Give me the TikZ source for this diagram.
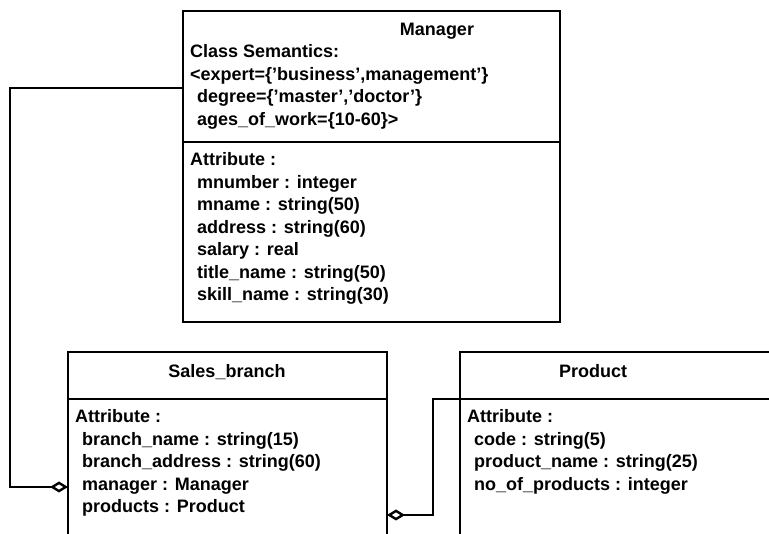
\documentclass[tikz,border=0pt]{standalone}
\usepackage{fontspec}
\setmainfont{Liberation Sans}
\usetikzlibrary{arrows.meta}
\begin{document}
\begin{tikzpicture}[x=1pt,y=-1pt,
  umlbox/.style={draw, line width=2.6pt, rectangle, inner sep=0pt, outer sep=0pt, anchor=north west},
  sepline/.style={line width=2.6pt},
  link/.style={line width=2.4pt},
  agg/.style={{Diamond[open,length=18pt,width=11pt,line width=2.4pt]}-},
  txt/.style={anchor=base west, inner sep=0pt, font=\fontsize{18}{22}\selectfont\bfseries},
  ttl/.style={anchor=base, inner sep=0pt, font=\fontsize{18}{22}\selectfont\bfseries}]
\useasboundingbox (0,0) rectangle (769,534);
\clip (0,0) rectangle (769,534);
\fill[white] (0,0) rectangle (769,534);

% class boxes
\node[umlbox, minimum width=377pt, minimum height=311pt] (manager) at (183,11) {};
\node[umlbox, minimum width=319pt, minimum height=240pt] (sales) at (68,352) {};
\node[umlbox, minimum width=360pt, minimum height=240pt] (product) at (460,352) {};

% compartment separators
\draw[sepline] (manager.west |- 0,142) -- (manager.east |- 0,142);
\draw[sepline] (sales.west |- 0,399) -- (sales.east |- 0,399);
\draw[sepline] (product.west |- 0,399) -- (product.east |- 0,399);

% Manager
\node[ttl] (mtitle) at (437,36) {Manager};
\node[txt] (ms1) at (190,58) {Class Semantics:};
\node[txt] (ms2) at (190,80.5) {<expert=\{'business',management'\}};
\node[txt] (ms3) at (197,103) {degree=\{'master','doctor'\}};
\node[txt] (ms4) at (197,125.5) {ages\_of\_work=\{10-60\}>};
\node[txt] (ma0) at (190,166) {Attribute :};
\node[txt] (ma1) at (197,188.5) {mnumber : integer};
\node[txt] (ma2) at (197,211) {mname : string(50)};
\node[txt] (ma3) at (197,233.5) {address : string(60)};
\node[txt] (ma4) at (197,256) {salary : real};
\node[txt] (ma5) at (197,278.5) {title\_name : string(50)};
\node[txt] (ma6) at (197,301) {skill\_name : string(30)};

% Sales_branch
\node[ttl] (stitle) at (227,378) {Sales\_branch};
\node[txt] (sa0) at (75,423) {Attribute :};
\node[txt] (sa1) at (82,445.5) {branch\_name : string(15)};
\node[txt] (sa2) at (82,468) {branch\_address : string(60)};
\node[txt] (sa3) at (82,490.5) {manager : Manager};
\node[txt] (sa4) at (82,513) {products : Product};

% Product
\node[ttl] (ptitle) at (593,378) {Product};
\node[txt] (pa0) at (467,423) {Attribute :};
\node[txt] (pa1) at (474,445.5) {code : string(5)};
\node[txt] (pa2) at (474,468) {product\_name : string(25)};
\node[txt] (pa3) at (474,490.5) {no\_of\_products : integer};

% aggregation links
\coordinate (bendA) at (10,88);
\coordinate (bendB) at (433,399);
\draw[link, agg] (sales.west |- 0,487) -| (bendA) -- (manager.west |- bendA);
\draw[link, agg] (sales.east |- 0,515) -| (bendB) -- (product.west |- bendB);
\end{tikzpicture}
\end{document}
